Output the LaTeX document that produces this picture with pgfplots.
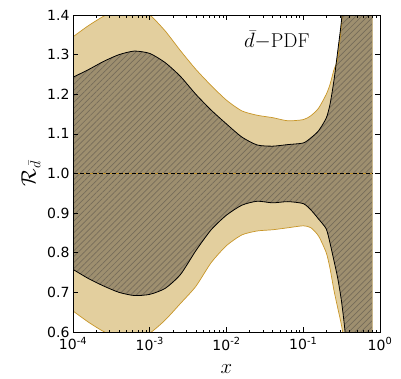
\documentclass[border=0pt]{standalone}
\usepackage{pgfplots}
\pgfplotsset{compat=1.18}
\usepgfplotslibrary{fillbetween}
\usetikzlibrary{patterns.meta}
\usepackage{fontspec}
\newfontfamily\dejavu{DejaVu Sans}
\definecolor{tanfill}{RGB}{227,207,158}
\definecolor{goldline}{RGB}{200,150,40}
\definecolor{hatchfill}{RGB}{158,143,111}
\definecolor{hatchline}{RGB}{118,108,90}
\begin{document}
\begin{tikzpicture}
\begin{axis}[
  at={(0,0)}, anchor=south west,
  scale only axis, width=307pt, height=317pt,
  xmode=log, xmin=1e-4, xmax=1, ymin=0.6, ymax=1.4,
  axis line style={line width=0.9pt},
  tick align=inside, major tick length=5pt, minor tick length=2.5pt,
  every tick/.style={black, line width=0.6pt},
  xtick={1e-4,1e-3,1e-2,1e-1,1},
  xticklabels={10\textsuperscript{-4},10\textsuperscript{-3},10\textsuperscript{-2},10\textsuperscript{-1},10\textsuperscript{0}},
  minor xtick={2e-4,3e-4,4e-4,5e-4,6e-4,7e-4,8e-4,9e-4,2e-3,3e-3,4e-3,5e-3,6e-3,7e-3,8e-3,9e-3,2e-2,3e-2,4e-2,5e-2,6e-2,7e-2,8e-2,9e-2,0.2,0.3,0.4,0.5,0.6,0.7,0.8,0.9},
  ytick={0.6,0.7,0.8,0.9,1.0,1.1,1.2,1.3,1.4},
  yticklabels={0.6,0.7,0.8,0.9,1.0,1.1,1.2,1.3,1.4},
  tick label style={font=\dejavu\fontsize{14}{14}\selectfont},
  xticklabel style={yshift=-2pt},
  xlabel={$x$}, ylabel={$\mathcal{R}_{\bar{d}}$},
  xlabel style={font=\fontsize{20}{20}\selectfont, at={(axis description cs:0.5,-0.117)}, anchor=center},
  ylabel style={font=\fontsize{20}{20}\selectfont, at={(axis description cs:-0.137,0.5)}, anchor=center},
  axis on top,
]
% outer band
\addplot[name path=OU, goldline, line width=0.7pt, smooth, tension=0.4] coordinates {
(1e-4,1.345) (1.585e-4,1.373) (2.512e-4,1.397) (3.981e-4,1.413) (6.310e-4,1.418) (1e-3,1.400) (1.585e-3,1.360) (2.512e-3,1.310) (3.981e-3,1.263) (6.310e-3,1.222) (1e-2,1.185) (1.585e-2,1.158) (2.512e-2,1.147) (3.981e-2,1.141) (6.310e-2,1.133) (0.1,1.136) (0.1259,1.146) (0.1585,1.165) (0.1995,1.200) (0.2234,1.225) (0.2512,1.262) (0.2818,1.290) (0.3162,1.380) (0.3548,1.500) (0.3981,1.700) (0.81,3.5)};
\addplot[name path=OL, goldline, line width=0.7pt, smooth, tension=0.4] coordinates {
(1e-4,0.653) (1.585e-4,0.625) (2.512e-4,0.601) (3.981e-4,0.585) (6.310e-4,0.580) (1e-3,0.597) (1.585e-3,0.630) (2.512e-3,0.672) (3.981e-3,0.715) (6.310e-3,0.775) (1e-2,0.818) (1.585e-2,0.845) (2.512e-2,0.855) (3.981e-2,0.858) (6.310e-2,0.863) (0.1,0.868) (0.1259,0.863) (0.1585,0.842) (0.1995,0.800) (0.2234,0.760) (0.2512,0.705) (0.2818,0.660) (0.3162,0.615) (0.3548,0.550) (0.3981,0.400) (0.81,-1.5)};
\addplot[tanfill, draw=none] fill between[of=OU and OL];
% inner band
\addplot[name path=IU, draw=none, smooth, tension=0.4] coordinates {
(1e-4,1.243) (1.585e-4,1.262) (2.512e-4,1.283) (3.981e-4,1.300) (6.310e-4,1.309) (1e-3,1.303) (1.585e-3,1.280) (2.512e-3,1.245) (3.981e-3,1.200) (6.310e-3,1.160) (1e-2,1.125) (1.585e-2,1.092) (2.512e-2,1.072) (3.981e-2,1.069) (6.310e-2,1.073) (0.1,1.077) (0.1259,1.090) (0.1585,1.108) (0.1995,1.140) (0.2234,1.175) (0.2512,1.235) (0.2818,1.310) (0.3162,1.390) (0.3548,1.520) (0.3981,1.700) (0.7943,3.5)};
\addplot[name path=IL, draw=none, smooth, tension=0.4] coordinates {
(1e-4,0.758) (1.585e-4,0.735) (2.512e-4,0.716) (3.981e-4,0.700) (6.310e-4,0.692) (1e-3,0.695) (1.585e-3,0.710) (2.512e-3,0.745) (3.981e-3,0.805) (6.310e-3,0.858) (1e-2,0.895) (1.585e-2,0.920) (2.512e-2,0.930) (3.981e-2,0.926) (6.310e-2,0.929) (0.1,0.924) (0.1259,0.908) (0.1585,0.885) (0.1995,0.860) (0.2234,0.824) (0.2512,0.780) (0.2818,0.735) (0.3162,0.675) (0.3548,0.590) (0.3981,0.450) (0.7943,-1.5)};
\addplot[hatchfill, draw=none, postaction={pattern={Lines[angle=45,distance=4.2pt,line width=0.7pt]}, pattern color=hatchline}] fill between[of=IU and IL];
\addplot[black, line width=0.8pt, smooth, tension=0.4] coordinates {
(1e-4,1.243) (1.585e-4,1.262) (2.512e-4,1.283) (3.981e-4,1.300) (6.310e-4,1.309) (1e-3,1.303) (1.585e-3,1.280) (2.512e-3,1.245) (3.981e-3,1.200) (6.310e-3,1.160) (1e-2,1.125) (1.585e-2,1.092) (2.512e-2,1.072) (3.981e-2,1.069) (6.310e-2,1.073) (0.1,1.077) (0.1259,1.090) (0.1585,1.108) (0.1995,1.140) (0.2234,1.175) (0.2512,1.235) (0.2818,1.310) (0.3162,1.390) (0.3548,1.520) (0.3981,1.700) (0.7943,3.5)};
\addplot[black, line width=0.8pt, smooth, tension=0.4] coordinates {
(1e-4,0.758) (1.585e-4,0.735) (2.512e-4,0.716) (3.981e-4,0.700) (6.310e-4,0.692) (1e-3,0.695) (1.585e-3,0.710) (2.512e-3,0.745) (3.981e-3,0.805) (6.310e-3,0.858) (1e-2,0.895) (1.585e-2,0.920) (2.512e-2,0.930) (3.981e-2,0.926) (6.310e-2,0.929) (0.1,0.924) (0.1259,0.908) (0.1585,0.885) (0.1995,0.860) (0.2234,0.824) (0.2512,0.780) (0.2818,0.735) (0.3162,0.675) (0.3548,0.590) (0.3981,0.450) (0.7943,-1.5)};
% central lines
\addplot[goldline, line width=0.8pt] coordinates {(1e-4,1.0) (0.81,1.0)};
\addplot[black, line width=0.8pt, dash pattern=on 4pt off 2.5pt] coordinates {(1e-4,1.0) (0.7943,1.0)};
\node[font=\fontsize{20}{20}\selectfont] at (rel axis cs:0.664,0.921) {$\bar{d}-$PDF};
\end{axis}
\pgfresetboundingbox
\useasboundingbox (-73pt,-46pt) rectangle (328pt,332pt);
\end{tikzpicture}
\end{document}
